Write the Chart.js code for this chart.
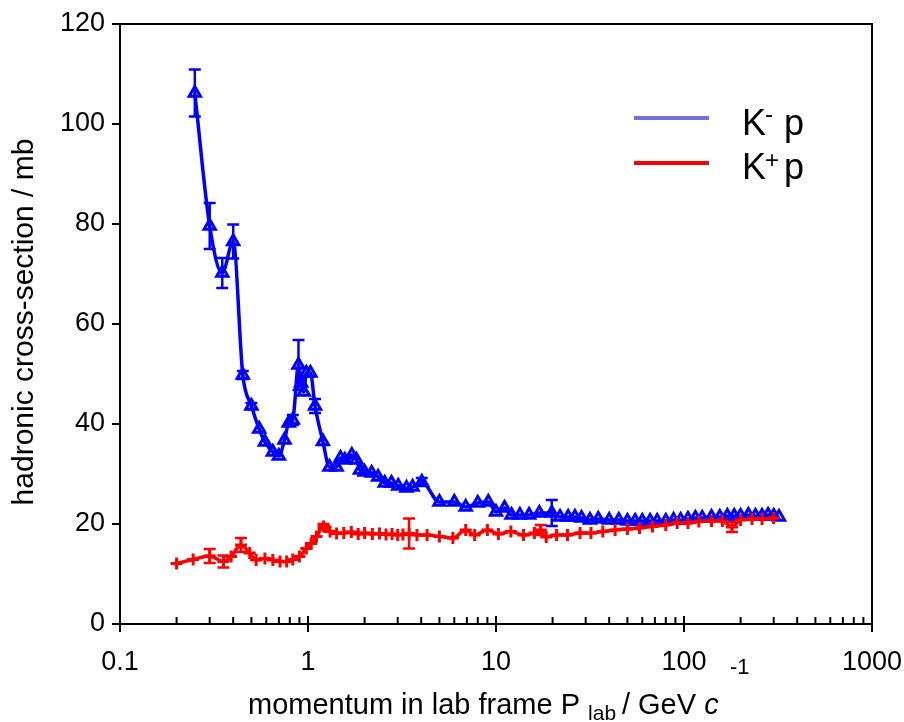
<!DOCTYPE html>
<html>
<head>
<meta charset="utf-8">
<script src="https://cdn.jsdelivr.net/npm/chart.js@4.4.1/dist/chart.umd.min.js"></script>
<style>
  html, body { margin: 0; padding: 0; background: #fff; }
  #wrap { width: 904px; height: 722px; }
</style>
</head>
<body>
<div id="wrap"><canvas id="chart" width="904" height="722"></canvas></div>
<script>
// K- p total cross-section (mb) vs lab momentum (GeV/c)
const kMinusP = [0.25, 0.30, 0.35, 0.40, 0.45, 0.50, 0.55, 0.59, 0.65, 0.70, 0.75, 0.79, 0.83, 0.89, 0.92,
  0.95, 0.98, 1.03, 1.09, 1.20, 1.30, 1.42, 1.49, 1.57, 1.71, 1.81, 1.89, 2.0, 2.18, 2.36,
  2.56, 2.78, 3.02, 3.34, 3.6, 4.03, 5.0, 6.0, 6.9, 8.0, 9.1, 10.0, 11.1, 12.1, 13.4,
  15.0, 17.0, 19.8, 21.9, 24.2, 26.3, 28.5, 31.6, 35, 40, 45, 50, 55, 60, 66,
  72, 80, 88, 96, 105, 115, 125, 140, 155, 170, 185, 200, 220, 240, 260, 280, 300, 320];
const kMinusSigma = [106.2, 79.6, 70.2, 76.5, 49.8, 43.6, 39.0, 36.4, 34.4, 33.6, 36.8, 40.2, 40.8, 51.8, 48.2,
  46.4, 50.2, 50.2, 43.6, 36.5, 31.4, 31.4, 33.2, 32.8, 33.8, 32.8, 30.8, 30.4, 30.2, 29.4,
  28.2, 28.2, 27.6, 27.2, 27.4, 28.4, 24.4, 24.4, 23.4, 24.2, 24.4, 22.4, 23.2, 21.8, 21.8,
  21.8, 22.2, 22.2, 21.4, 21.4, 21.4, 21.2, 20.8, 21.0, 20.8, 20.8, 20.6, 20.6, 20.6, 20.6,
  20.6, 20.6, 20.8, 20.8, 21.0, 21.2, 21.2, 21.4, 21.4, 21.6, 21.6, 21.6, 21.8, 21.6, 21.6, 21.8, 21.6, 21.4];
const kMinusErrP = [0.25, 0.30, 0.35, 0.40, 0.45, 0.50, 0.83, 0.89, 1.09, 4.03, 19.8];
const kMinusErrSize = [4.7, 4.6, 3.0, 3.4, 0.8, 0.6, 1.0, 5.0, 1.4, 0.8, 2.6];

// K+ p total cross-section (mb)
const kPlusP = [0.20, 0.245, 0.30, 0.355, 0.39, 0.44, 0.49, 0.53, 0.59, 0.65, 0.71, 0.77, 0.83, 0.90, 0.98,
  1.04, 1.11, 1.21, 1.31, 1.42, 1.55, 1.7, 1.85, 2.0, 2.2, 2.4, 2.6, 2.8, 3.0, 3.2,
  3.45, 3.8, 4.3, 5.0, 5.9, 6.9, 7.7, 9.0, 10.3, 12, 14, 16, 17.3, 18.5, 21,
  24, 28, 32, 37, 43, 50, 58, 68, 80, 92, 105, 120, 140, 160, 180, 200, 230, 260, 300];
const kPlusSigma = [12.1, 12.9, 13.6, 12.5, 13.5, 15.8, 14.2, 12.8, 13.1, 12.8, 12.5, 12.5, 12.9, 13.5, 15.1,
  16.1, 17.5, 19.5, 18.5, 18.1, 18.2, 18.4, 18.0, 18.2, 18.0, 18.1, 17.9, 18.0, 17.8, 17.9,
  18.1, 17.8, 17.8, 17.5, 17.2, 18.8, 17.8, 18.8, 18.0, 18.5, 17.8, 18.2, 18.8, 17.4, 17.8,
  17.8, 18.2, 18.2, 18.5, 18.8, 19.0, 19.2, 19.5, 19.8, 20.2, 20.2, 20.5, 20.6, 20.6, 19.4, 20.8, 21.0, 21.0, 21.2];
const kPlusErrP = [0.30, 0.355, 0.44, 1.21, 3.45, 17.3, 180];
const kPlusErrSize = [1.4, 1.2, 1.4, 0.5, 3.0, 1.0, 1.0];

const xTickValues = [0.1, 1, 10, 100, 1000];
const xTickLabels = ['0.1', '1', '10', '100', '1000'];
const yTickValues = [0, 20, 40, 60, 80, 100, 120];

const FONT = '"Liberation Sans", Arial, sans-serif';
const BLUE = '#0000ff';
const RED = '#ff0000';

function toPoints(xs, ys) {
  return xs.map((x, i) => ({ x: x, y: ys[i] }));
}

// error bars, ticks, frame, legend and axis titles
const decorations = {
  id: 'decorations',
  afterDatasetsDraw(chart) {
    const ctx = chart.ctx;
    const xs = chart.scales.x, ys = chart.scales.y;
    const drawErrors = (ps, sizes, sx, sy, color) => {
      ctx.save();
      ctx.strokeStyle = color;
      ctx.lineWidth = 2.5;
      ps.forEach((p, i) => {
        const idx = sx.indexOf(p);
        if (idx < 0) return;
        const px = xs.getPixelForValue(p);
        const top = ys.getPixelForValue(sy[idx] + sizes[i]);
        const bot = ys.getPixelForValue(sy[idx] - sizes[i]);
        ctx.beginPath();
        ctx.moveTo(px, top); ctx.lineTo(px, bot);
        ctx.moveTo(px - 6, top); ctx.lineTo(px + 6, top);
        ctx.moveTo(px - 6, bot); ctx.lineTo(px + 6, bot);
        ctx.stroke();
      });
      ctx.restore();
    };
    drawErrors(kPlusErrP, kPlusErrSize, kPlusP, kPlusSigma, RED);
    drawErrors(kMinusErrP, kMinusErrSize, kMinusP, kMinusSigma, BLUE);
  },
  afterDraw(chart) {
    const ctx = chart.ctx;
    const a = chart.chartArea;
    const xs = chart.scales.x, ys = chart.scales.y;
    ctx.save();
    ctx.strokeStyle = '#000';
    ctx.lineWidth = 2;
    ctx.strokeRect(a.left, a.top, a.right - a.left, a.bottom - a.top);

    // x ticks: decades cross the axis, minor ticks point inward
    ctx.beginPath();
    xTickValues.forEach((v, i) => {
      const px = xs.getPixelForValue(v);
      ctx.moveTo(px, a.bottom - 8); ctx.lineTo(px, a.bottom + 8);
      if (i < xTickValues.length - 1) {
        for (let m = 2; m <= 9; m++) {
          const mx = xs.getPixelForValue(v * m);
          ctx.moveTo(mx, a.bottom - 7); ctx.lineTo(mx, a.bottom);
        }
      }
    });
    yTickValues.forEach(v => {
      const py = ys.getPixelForValue(v);
      ctx.moveTo(a.left - 8, py); ctx.lineTo(a.left, py);
    });
    ctx.stroke();

    // legend
    ctx.lineWidth = 4;
    ctx.strokeStyle = '#7272d6';
    ctx.beginPath(); ctx.moveTo(634, 118); ctx.lineTo(709, 118); ctx.stroke();
    ctx.strokeStyle = RED;
    ctx.beginPath(); ctx.moveTo(634, 163); ctx.lineTo(709, 163); ctx.stroke();
    ctx.fillStyle = '#000';
    ctx.textAlign = 'left';
    ctx.textBaseline = 'alphabetic';
    const legendEntry = (sup, base, supDy) => {
      ctx.font = '36px ' + FONT;
      ctx.fillText('K', 742, base);
      const kw = ctx.measureText('K').width;
      ctx.font = '24px ' + FONT;
      ctx.fillText(sup, 742 + kw - 1, base - supDy);
      ctx.font = '36px ' + FONT;
      ctx.fillText('p', 784, base);
    };
    legendEntry('-', 135, 13);
    legendEntry('+', 179, 11);

    // axis titles
    ctx.font = '29px ' + FONT;
    let x = 248;
    const base = 714;
    const t1 = 'momentum in lab frame P ';
    ctx.fillText(t1, x, base); x += ctx.measureText(t1).width;
    ctx.font = '21px ' + FONT;
    ctx.fillText('lab', x, base + 6); x += ctx.measureText('lab ').width;
    ctx.font = '29px ' + FONT;
    const t2 = '/ GeV ';
    ctx.fillText(t2, x, base); x += ctx.measureText(t2).width;
    ctx.font = 'italic 29px ' + FONT;
    ctx.fillText('c', x, base);

    ctx.font = '22px ' + FONT;
    ctx.fillText('-1', 730, 674);

    ctx.translate(25, 322);
    ctx.rotate(-Math.PI / 2);
    ctx.font = '30px ' + FONT;
    ctx.textAlign = 'center';
    ctx.textBaseline = 'middle';
    ctx.fillText('hadronic cross-section / mb', 0, 0);
    ctx.restore();
  }
};

new Chart(document.getElementById('chart'), {
  type: 'line',
  data: {
    datasets: [
      {
        label: 'K+ p',
        data: toPoints(kPlusP, kPlusSigma),
        borderColor: RED,
        borderWidth: 3.5,
        pointStyle: 'cross',
        pointRadius: 6,
        pointBorderWidth: 3,
        pointBorderColor: RED,
        pointBackgroundColor: RED,
        cubicInterpolationMode: 'monotone',
        fill: false
      },
      {
        label: 'K- p',
        data: toPoints(kMinusP, kMinusSigma),
        borderColor: BLUE,
        borderWidth: 3.5,
        pointStyle: 'triangle',
        pointRadius: 6.5,
        pointBorderWidth: 3,
        pointBorderColor: BLUE,
        pointBackgroundColor: 'rgba(0,0,0,0)',
        cubicInterpolationMode: 'monotone',
        fill: false
      }
    ]
  },
  options: {
    responsive: false,
    animation: false,
    layout: { padding: { top: 24, right: 32, left: 0, bottom: 0 } },
    plugins: { legend: { display: false }, tooltip: { enabled: false } },
    scales: {
      x: {
        type: 'logarithmic',
        min: 0.1,
        max: 1000,
        grid: { display: false, drawTicks: false },
        border: { display: false },
        afterBuildTicks: s => { s.ticks = xTickValues.map(v => ({ value: v })); },
        afterFit: s => { s.height = 98; s.paddingLeft = 0; s.paddingRight = 0; },
        ticks: {
          autoSkip: false,
          maxRotation: 0,
          padding: 22,
          color: '#000',
          font: { family: FONT, size: 27 },
          callback: (v, i) => xTickLabels[i]
        }
      },
      y: {
        min: 0,
        max: 120,
        grid: { display: false, drawTicks: false },
        border: { display: false },
        afterBuildTicks: s => { s.ticks = yTickValues.map(v => ({ value: v })); },
        afterFit: s => { s.width = 120; s.paddingTop = 0; s.paddingBottom = 0; },
        ticks: {
          padding: 15,
          color: '#000',
          font: { family: FONT, size: 27 }
        }
      }
    }
  },
  plugins: [decorations]
});
</script>
</body>
</html>
